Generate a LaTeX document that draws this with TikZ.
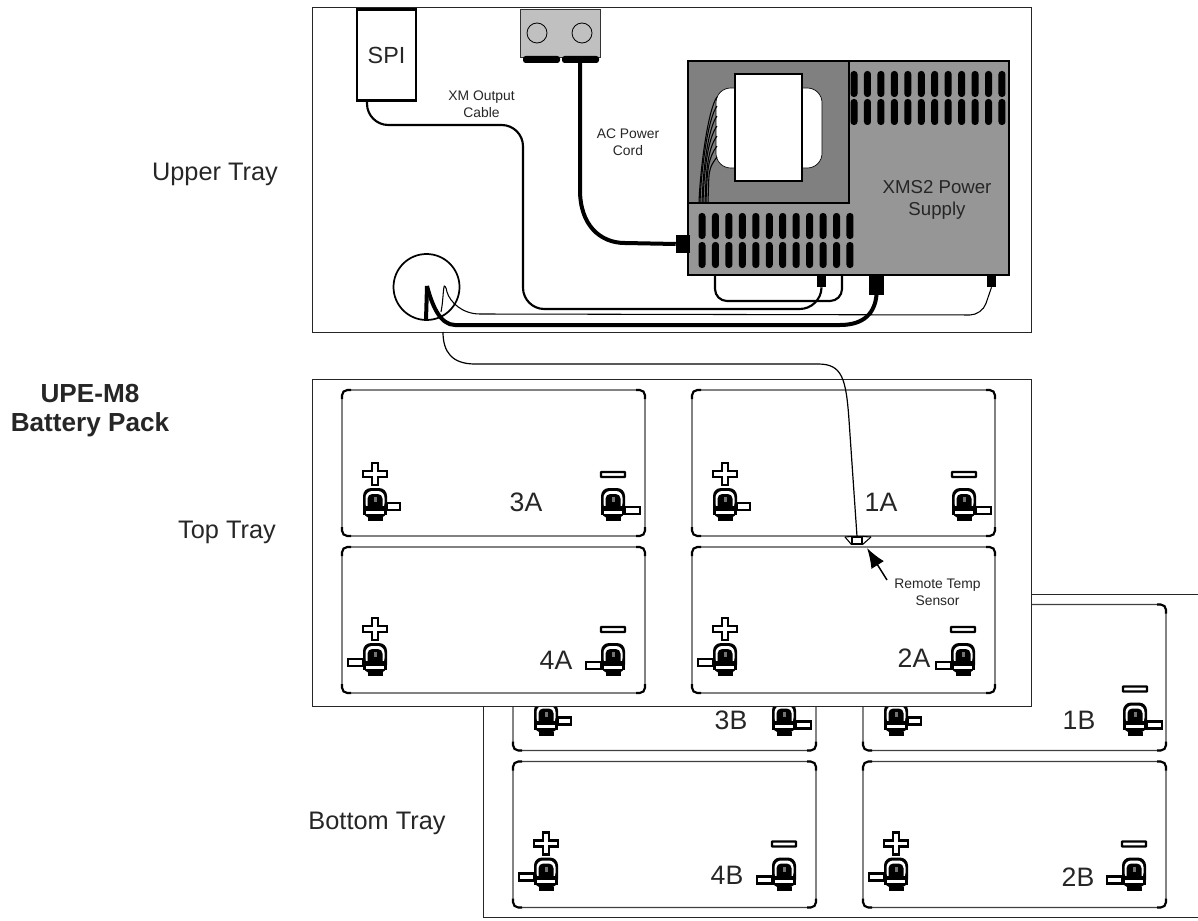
\documentclass[tikz,border=0pt]{standalone}
\usepackage{fontspec}
\setmainfont{Liberation Sans}
\usetikzlibrary{arrows.meta}
\definecolor{psuG}{RGB}{150,150,150}
\definecolor{psuD}{RGB}{128,128,128}
\definecolor{acG}{RGB}{192,192,192}
\def\px{0.75pt}
\tikzset{
  tray/.style={draw=black!85, line width=0.7pt},
  cap small/.style={font=\fontsize{10.4}{12.5}\selectfont, align=center, text=black!85},
  cap tray/.style={font=\fontsize{19}{22}\selectfont, text=black!85},
  cap cell/.style={font=\fontsize{20}{24}\selectfont, text=black!85},
  plug/.style={fill=black, inner sep=0pt},
  thinwire/.style={line width=0.8pt},
  midwire/.style={line width=1.6pt},
  fatwire/.style={line width=3pt},
  battery/.pic={
    \draw[line width=1pt, draw=black!75, rounded corners=4pt] (0,0) rectangle (303,146);
    \draw[line width=1.6pt, rounded corners=4pt] (0,9) -- (0,0) -- (9,0);
    \draw[line width=1.6pt, rounded corners=4pt] (294,0) -- (303,0) -- (303,9);
    \draw[line width=1.6pt, rounded corners=4pt] (303,137) -- (303,146) -- (294,146);
    \draw[line width=1.6pt, rounded corners=4pt] (9,146) -- (0,146) -- (0,137);
  },
  post/.pic={
    \fill[rounded corners=6pt] (-12,30) -- (-12,0) -- (12,0) -- (12,30) -- cycle;
    \fill[white, rounded corners=5pt] (-9.5,22) -- (-9.5,3) -- (9.5,3) -- (9.5,22) -- cycle;
    \fill[rounded corners=3.5pt] (-7.5,24) -- (-7.5,6) -- (7.5,6) -- (7.5,24) -- cycle;
    \fill (-12,18) rectangle (12,27);
    \fill[white] (-9,22.5) rectangle (9,25.5);
    \fill (-7.5,29) rectangle (7.5,33);
    \fill[black!55] (-1.5,9) rectangle (1.5,14);
  },
  plussign/.pic={
    \draw[line width=1.8pt, fill=white] (-3,-25) -- (3,-25) -- (3,-17) -- (12,-17) -- (12,-11) -- (3,-11)
      -- (3,-3) -- (-3,-3) -- (-3,-11) -- (-12,-11) -- (-12,-17) -- (-3,-17) -- cycle;
  },
  minussign/.pic={
    \draw[line width=1.8pt, fill=white, rounded corners=0.5pt] (-12,-16) rectangle (12,-11);
  },
}
% the four cells of one tray, positions as on the top tray
\newcommand{\celltray}{
  \foreach \cx/\cy in {342/390, 692/390, 342/547, 692/547}
    \pic at (\cx,\cy) {battery};
  \foreach \tx/\ty/\sgn/\ax/\ay/\aw in {375/488/plussign/12/15/13, 613/488/minussign/12/19/15,
      725/488/plussign/12/15/13, 964/488/minussign/12/19/15,
      375/643/plussign/-27/16/15, 613/643/minussign/-27/19/15,
      725/643/plussign/-27/16/15, 963/643/minussign/-27/19/15} {
    \draw[line width=1.8pt, fill=white] (\tx+\ax,\ty+\ay) rectangle (\tx+\ax+\aw,\ty+\ay+7);
    \pic at (\tx,\ty) {post};
    \pic at (\tx,\ty) {\sgn};
  }
}
\begin{document}
\begin{tikzpicture}[x=0.75pt, y=-0.75pt]
\useasboundingbox (0,0) rectangle (1198,920);
% bottom tray, open to the right
\draw[tray] (1198,594) -- (483,594) -- (483,917) -- (1198,917);
\begin{scope}[shift={(171,214.5)}]
\celltray
\end{scope}
% top tray covers it
\draw[tray, fill=white] (312,379) rectangle (1031,706);
\celltray
% upper tray
\draw[tray] (312,7) rectangle (1031,332);
% power supply
\draw[line width=1pt, fill=psuG] (688,61) rectangle (1009,275);
\draw[line width=1pt, fill=psuD] (688,61) rectangle (849,203);
\draw[line width=0.5pt, fill=white, rounded corners=11pt] (716,88) rectangle (822,168);
\draw[line width=1pt, fill=white] (735,74) rectangle (802,181);
% transformer leads
\foreach \bx/\ty in {699/97, 700/106, 702/116, 703/126, 705/136, 706/146, 708/157}
  \draw[line width=0.8pt] (\bx,203) .. controls (\bx+1,170) and (708,\ty+12) .. (717,\ty);
% vent slots
\foreach \sx/\sy in {854/71, 854/99, 702/213, 702/242}
  \foreach \i in {0,...,11}
    \fill[rounded corners=2.4pt] (\sx+\i*13.45-3.5,\sy) rectangle (\sx+\i*13.45+3.5,\sy+26);
\node[align=center, font=\fontsize{14}{17}\selectfont, text=black!85] (psulabel) at (937,200) {XMS2 Power\\Supply};
% SPI and outlet box
\node[draw, line width=1.6pt, fill=white, minimum width=59*\px, minimum height=91*\px, inner sep=0pt,
  font=\fontsize{17.5}{20}\selectfont, text=black!85] (spi) at (386.5,55) {SPI};
\node[draw=black!80, line width=0.7pt, fill=acG, minimum width=80*\px, minimum height=48*\px, inner sep=0pt] (acbox) at (560.5,33) {};
\draw[line width=0.6pt] (537,33) circle (10);
\draw[line width=0.6pt] (582,33) circle (10);
\fill[rounded corners=2pt] (523,56) -- (560,56) -- (560,63) -- (523,63) -- cycle;
\fill[rounded corners=2pt] (562,56) -- (599,56) -- (599,63) -- (562,63) -- cycle;
% plugs
\node[plug, minimum width=14*\px, minimum height=18*\px] (plugac) at (683,244) {};
\node[plug, minimum width=9*\px, minimum height=12*\px] (pluga) at (821.5,281) {};
\node[plug, minimum width=15*\px, minimum height=21*\px] (plugb) at (876.5,284) {};
\node[plug, minimum width=9*\px, minimum height=12*\px] (plugc) at (991.5,281) {};
% named ends of the cables
\coordinate (acstart) at (580,63);
\coordinate (spistart) at (367,100);
\coordinate (loopL) at (715,275);
\coordinate (loopR) at (842,275);
\coordinate (fatend) at (427,286);
\coordinate (thinend) at (444,287);
\coordinate (wallexit) at (443,332);
% cables
\draw[fatwire] (acstart) -- (580,190) .. controls (580,225) and (600,243) .. (625,243) -- (plugac.west);
\draw[midwire, rounded corners=16pt] (spistart) -- (367,125) -- (523,125) -- (523,309) -- (821,309) -- (pluga.south);
\draw[midwire, rounded corners=9pt] (loopL) -- (715,301) -- (842,301) -- (loopR);
\draw[thinwire, rounded corners=9pt] (plugc.south) -- (982,315) -- (480,314);
\draw[thinwire] (480,314) .. controls (462,314) and (450,302) .. (447,292) .. controls (446,286) and (444,285) .. (thinend)
  .. controls (443,292) and (443,302) .. (441,312);
\draw[line width=1.3pt] (426.5,287) circle (33);
\draw[fatwire] (plugb.south) .. controls (875,312) and (865,325) .. (840,325) -- (455,325)
  .. controls (440,325) and (432,305) .. (fatend);
\draw[fatwire] (fatend) -- (426,320);
% temp sensor
\node[draw, line width=0.8pt, fill=white, minimum width=10*\px, minimum height=7*\px, inner sep=0pt] (sensor) at (857,540.5) {};
\draw[thinwire] (sensor.north west) -- (845,537);
\draw[thinwire] (sensor.south west) -- (845,537);
\draw[thinwire] (sensor.north east) -- (871,537);
\draw[thinwire] (sensor.south east) -- (871,537);
\draw[line width=0.9pt] (wallexit) .. controls (443,352) and (452,364) .. (475,364) -- (818,364)
  .. controls (842,364) and (846,378) .. (849,420) -- (sensor.north);
\coordinate (sensortip) at (867,548);
\coordinate (sensortail) at (887,580);
\draw[line width=1.1pt, -{Latex[length=15pt, width=11pt]}] (sensortail) -- (sensortip);
% labels
\node[cap small] (xmlabel) at (481.5,104.5) {XM Output\\Cable};
\node[cap small] (aclabel) at (628,142.5) {AC Power\\Cord};
\node[cap small] (templabel) at (937.5,592.5) {Remote Temp\\Sensor};
\node[cap tray] (uplabel) at (215,174) {Upper Tray};
\node[cap tray] (toplabel) at (227,532) {Top Tray};
\node[cap tray] (botlabel) at (377,823) {Bottom Tray};
\node[align=center, font=\bfseries\fontsize{19.6}{21.75}\selectfont, text=black!85] (packlabel) at (90,410.5) {UPE-M8\\Battery Pack};
\node[cap cell] (c3a) at (526,502) {3A};
\node[cap cell] (c1a) at (881,502) {1A};
\node[cap cell] (c4a) at (556,660) {4A};
\node[cap cell] (c2a) at (914,658) {2A};
\node[cap cell] (c3b) at (731,720) {3B};
\node[cap cell] (c1b) at (1079,720) {1B};
\node[cap cell] (c4b) at (727,875) {4B};
\node[cap cell] (c2b) at (1078,877) {2B};
\end{tikzpicture}
\end{document}
